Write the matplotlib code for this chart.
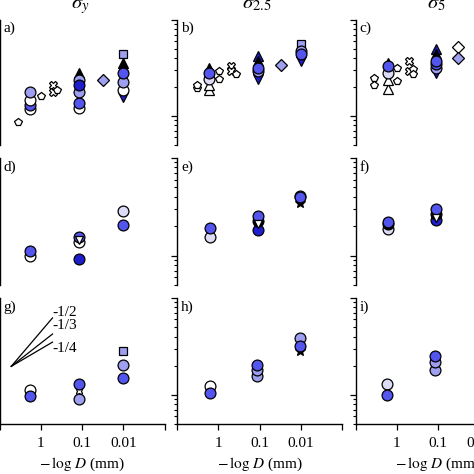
import matplotlib
matplotlib.use('Agg')
import matplotlib.pyplot as plt
from matplotlib.ticker import LogLocator, NullFormatter, FixedLocator

plt.rcParams['font.family'] = ['Liberation Serif', 'DejaVu Serif']
plt.rcParams['mathtext.fontset'] = 'stix'

# ---------------- data: x = -log10(D / mm), y = stress (arbitrary log units) ----
a_x = [-0.56, -0.25, -0.25, -0.25, -0.25, 0.00, 0.30, 0.30, 0.40,
       0.93, 0.93, 0.93, 0.93, 0.93, 0.93, 1.50,
       2.00, 2.00, 2.00, 2.00, 2.00, 2.00]
a_y = [8.7, 11.8, 13.0, 14.6, 17.7, 16.1, 20.9, 17.7, 18.5,
       28.4, 12.1, 13.6, 17.7, 23.5, 20.9, 23.5,
       15.7, 18.5, 36.0, 44.6, 22.4, 28.4]
a_k = ['pent', 'w', 'b', 'w', 'l2', 'pent', 'flower', 'flower', 'pent',
       'tri', 'w', 'b', 'l2', 'l2', 'db', 'dia',
       'vtri', 'w', 'tri', 'sq', 'l2', 'b']

b_x = [-0.51, -0.51, -0.22, -0.22, -0.22, -0.22, -0.22, 0.03, 0.03,
       0.31, 0.31, 0.43, 0.96, 0.96, 0.96, 0.96, 0.96, 1.53,
       2.00, 2.00, 2.00, 2.00]
b_y = [19.4, 20.9, 18.5, 20.9, 32.0, 24.6, 28.4, 29.8, 24.1,
       33.6, 29.8, 27.1, 42.5, 37.8, 24.6, 29.8, 32.0, 34.4,
       56.6, 37.8, 47.9, 44.6]
b_k = ['pent', 'pent', 'tri_w', 'tri_w', 'tri', 'l1', 'b', 'pent', 'pent',
       'flower', 'flower', 'pent', 'tri_db', 'tri', 'vtri', 'l2', 'b', 'dia',
       'sq', 'vtri', 'l2', 'b']

c_x = [-0.54, -0.54, -0.22, -0.22, -0.22, -0.22, -0.22, 0.00, 0.00,
       0.30, 0.30, 0.40, 0.40, 0.95, 0.95, 0.95, 0.95, 0.95, 0.95,
       1.49, 1.49]
c_y = [25.2, 20.9, 19.0, 23.5, 36.0, 27.8, 33.6, 32.0, 23.0,
       37.8, 29.8, 31.2, 27.1, 50.2, 44.6, 28.4, 32.0, 35.2, 37.8,
       52.7, 40.6]
c_k = ['pent', 'pent', 'tri_w', 'tri_w', 'tri', 'l1', 'b', 'pent', 'pent',
       'flower', 'flower', 'pent', 'pent', 'tri_db', 'tri', 'vtri', 'l2', 'b', 'b',
       'dia_w', 'dia']

d_x = [-0.25, -0.25, 0.93, 0.93, 0.93, 0.93, 2.00, 2.00]
d_y = [9.8, 11.1, 13.7, 15.6, 14.6, 9.25, 28.6, 20.5]
d_k = ['w', 'b', 'w', 'b', 'vtri_w', 'db', 'l1', 'b']

e_x = [-0.21, -0.21, 0.96, 0.96, 0.96, 0.96, 1.99, 1.99, 1.99]
e_y = [15.6, 19.3, 18.1, 22.6, 25.4, 20.9, 34.9, 40.9, 39.9]
e_k = ['l1', 'b', 'db', 'k', 'b', 'vtri_w', 'star', 'l2', 'b']

f_x = [-0.21, -0.21, -0.21, 0.94, 0.94, 0.94, 0.94]
f_y = [18.8, 20.9, 22.2, 23.0, 26.5, 29.8, 24.5]
f_k = ['l1', 'k', 'b', 'db', 'k', 'b', 'vtri_w']

g_x = [-0.25, -0.25, 0.93, 0.93, 0.93, 2.00, 2.00, 2.00]
g_y = [11.3, 9.8, 9.1, 10.9, 13.0, 28.6, 20.5, 15.0]
g_k = ['w', 'b', 'l2', 'cross', 'b', 'sq', 'l2', 'b']

h_x = [-0.21, -0.21, 0.95, 0.95, 0.95, 1.99, 1.99, 1.99]
h_y = [12.2, 10.5, 15.8, 18.1, 20.5, 28.6, 38.7, 32.2]
h_k = ['w', 'b', 'l2', 'l2', 'b', 'star', 'l2', 'b']

i_x = [-0.23, -0.23, 0.93, 0.93, 0.93]
i_y = [12.8, 10.0, 18.2, 21.7, 25.4]
i_k = ['l1', 'b', 'l2', 'l2', 'b']

titles = [r'$\sigma_y$', r'$\sigma_{2.5}$', r'$\sigma_5$']
panel_labels = ['a)', 'b)', 'c)', 'd)', 'e)', 'f)', 'g)', 'h)', 'i)']
xtick_vals = [-1, 0, 1, 2, 3]
xtick_labels = ['', '1', '0.1', '0.01', '']
slopes = [1/2, 1/3, 1/4]
slope_labels = ['-1/2', '-1/3', '-1/4']
slope_start = (-0.715, 19.7)
slope_label_y = [71.0, 51.8, 30.0]

# ---------------- styles ----------------
W_ = 'white'
L1 = '#dcdcf6'
L2 = '#9f9ff0'
B_ = '#5454ee'
DB = '#1e1ecc'
STYLE = {
    'w': ('o', W_, 7.8), 'l1': ('o', L1, 7.8), 'l2': ('o', L2, 7.8),
    'b': ('o', B_, 7.8), 'db': ('o', DB, 7.8), 'k': ('o', 'black', 7.8),
    'pent': ('p', W_, 6.0), 'flower': ('X', W_, 6.0),
    'tri': ('^', 'black', 6.5), 'tri_w': ('^', W_, 6.5), 'tri_db': ('^', DB, 6.5),
    'vtri': ('v', DB, 6.5), 'vtri_w': ('v', W_, 6.0),
    'sq': ('s', L2, 6.0), 'dia': ('D', L2, 6.0), 'dia_w': ('D', W_, 6.0),
    'star': ('*', 'black', 7.5), 'cross': ('X', W_, 5.0),
}

panels = [(a_x, a_y, a_k), (b_x, b_y, b_k), (c_x, c_y, c_k),
          (d_x, d_y, d_k), (e_x, e_y, e_k), (f_x, f_y, f_k),
          (g_x, g_y, g_k), (h_x, h_y, h_k), (i_x, i_y, i_k)]

PX = 474.0
fig = plt.figure(figsize=(4.74, 4.74), dpi=100)
col_left = [-0.5, 177.0, 355.5]
col_w = 165.0
row_top = [20.0, 158.0, 298.0]
row_bot = [145.0, 285.0, 424.0]

for idx, (xs, ys, ks) in enumerate(panels):
    r, c = divmod(idx, 3)
    l = col_left[c] / PX
    b = 1 - row_bot[r] / PX
    h = (row_bot[r] - row_top[r]) / PX
    ax = fig.add_axes([l, b, col_w / PX, h])
    ax.set_yscale('log')
    ax.set_ylim(5, 100)
    ax.set_xlim(-1, 3)
    for s in ['top', 'right']:
        ax.spines[s].set_visible(False)
    for s in ['left', 'bottom']:
        ax.spines[s].set_linewidth(1.0)
    ax.yaxis.set_major_locator(LogLocator(base=10))
    ax.yaxis.set_minor_locator(LogLocator(base=10, subs=range(2, 10)))
    ax.yaxis.set_major_formatter(NullFormatter())
    ax.yaxis.set_minor_formatter(NullFormatter())
    ax.tick_params(axis='y', which='major', direction='out', length=4.5, width=0.9)
    ax.tick_params(axis='y', which='minor', direction='out', length=2.3, width=0.8)
    if r < 2:
        ax.spines['bottom'].set_visible(False)
        ax.set_xticks([])
    else:
        ax.xaxis.set_major_locator(FixedLocator(xtick_vals))
        ax.set_xticklabels(xtick_labels, fontsize=11)
        ax.tick_params(axis='x', which='major', direction='out', length=4.5, width=0.9, pad=5)
        ax.set_xlabel(r'$-\,\log\,D$ (mm)', fontsize=11, labelpad=4)
    for x, y, k in zip(xs, ys, ks):
        m, col, ms = STYLE[k]
        ax.plot([x], [y], marker=m, ms=ms, mfc=col, mec='black', mew=0.9,
                ls='none', clip_on=False)
    ax.text(0.025, 0.93, panel_labels[idx], transform=ax.transAxes,
            fontsize=11, ha='left', va='center')
    if idx == 6:
        x0, y0 = slope_start
        for sl, lab, ly in zip(slopes, slope_labels, slope_label_y):
            ax.plot([x0, x0 + 1.0], [y0, y0 * 10 ** sl], color='black', lw=0.9)
            ax.text(x0 + 1.0, ly, lab, fontsize=11, ha='left', va='center')

title_x = [80, 257, 436]
for tx, t in zip(title_x, titles):
    fig.text(tx / PX, 1 - 8 / PX, t, fontsize=15, ha='center', va='baseline')

fig.savefig('out.png', dpi=100)
